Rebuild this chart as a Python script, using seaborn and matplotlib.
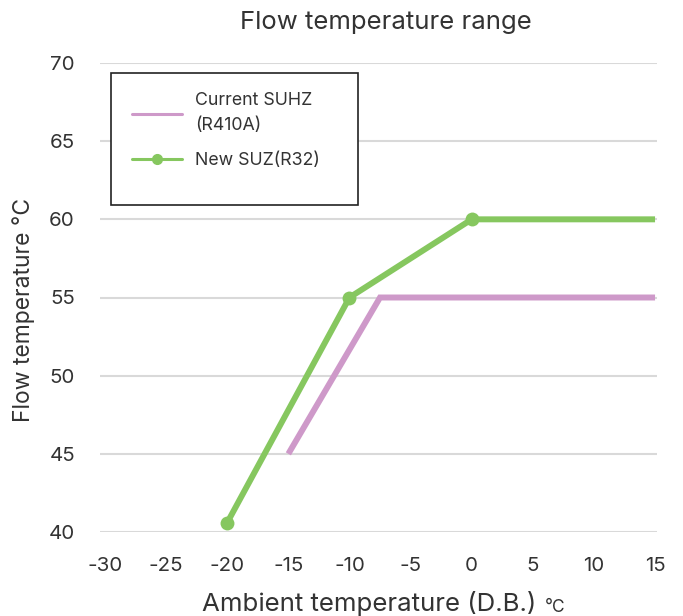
import matplotlib
matplotlib.use("Agg")
import matplotlib.pyplot as plt
from matplotlib.lines import Line2D
from matplotlib.patches import Rectangle
import seaborn as sns
import pandas as pd

# datos
actual_x = [-15, -7.5, 15]
actual_y = [45, 55, 55]
nuevo_x = [-20, -10, 0, 15]
nuevo_y = [40.6, 55, 60, 60]
etiquetas = ["Current SUHZ\n(R410A)", "New SUZ(R32)"]
ticks_x = [-30, -25, -20, -15, -10, -5, 0, 5, 10, 15]
ticks_y = [40, 45, 50, 55, 60, 65, 70]

color_rosa = "#CE99C9"
color_verde = "#86C75F"
color_texto = "#333333"

sns.set_theme(style="whitegrid")
plt.rcParams['font.family'] = ['Inter', 'DejaVu Sans']
plt.rcParams['axes.unicode_minus'] = False

W, H = 683, 616
fig = plt.figure(figsize=(W / 100, H / 100), dpi=100)
ax = fig.add_axes([100 / W, 1 - 532 / H, 557 / W, 469 / H])

df_actual = pd.DataFrame({"x": actual_x, "y": actual_y})
df_nuevo = pd.DataFrame({"x": nuevo_x, "y": nuevo_y})

sns.lineplot(data=df_actual, x="x", y="y", ax=ax, color=color_rosa,
             linewidth=4.3, solid_joinstyle="miter", solid_capstyle="butt", zorder=3)
sns.lineplot(data=df_nuevo, x="x", y="y", ax=ax, color=color_verde,
             linewidth=4.3, marker="o", markersize=10, markeredgewidth=0,
             markevery=[0, 1, 2], solid_capstyle="butt", zorder=4, clip_on=False)

ax.set_xlim(-30.41, 15.16)
ax.set_ylim(40, 70)
ax.set_xticks(ticks_x)
ax.set_yticks(ticks_y)
ax.set_xlabel("")
ax.set_ylabel("")
ax.grid(axis="x", visible=False)
ax.grid(axis="y", color="#d9d9d9", linewidth=1.5)
for s in ax.spines.values():
    s.set_visible(False)
ax.tick_params(axis="both", length=0, labelsize=14.8, labelcolor=color_texto)
ax.tick_params(axis="y", pad=18)
ax.tick_params(axis="x", pad=18)

# leyenda con marco propio
handles = [
    Line2D([], [], color=color_rosa, linewidth=2.2),
    Line2D([], [], color=color_verde, linewidth=2.2, marker="o", markersize=7),
]
leg = fig.legend(handles, etiquetas, loc="upper left",
                 bbox_to_anchor=(116 / W, 1 - 76 / H), frameon=False,
                 fontsize=12.8, handlelength=2.8, handletextpad=0.75,
                 labelspacing=1.0, labelcolor=color_texto)
for t in leg.get_texts():
    t.set_linespacing(1.65)
fig.add_artist(Rectangle((111 / W, 1 - 205 / H), 247 / W, 132 / H,
                         transform=fig.transFigure, facecolor="white",
                         edgecolor="#222222", linewidth=1.2, zorder=1))
leg.set_zorder(5)

fig.text(386 / W, 1 - 22 / H, "Flow temperature range", ha="center", va="center",
         fontsize=18.5, color=color_texto)
fig.text(24 / W, 1 - 310 / H, "Flow temperature °C", ha="center", va="center",
         rotation=90, fontsize=16.5, color=color_texto)
lbl = fig.text(202 / W, 1 - 603 / H, "Ambient temperature (D.B.)", ha="left",
               va="center", fontsize=18.6, color=color_texto)
ax.annotate("°C", xy=(1, 0), xycoords=lbl, xytext=(6, 0), textcoords="offset points",
            ha="left", va="bottom", fontsize=12.5, color=color_texto,
            annotation_clip=False)

fig.savefig("out.png", dpi=100)
plt.close(fig)
